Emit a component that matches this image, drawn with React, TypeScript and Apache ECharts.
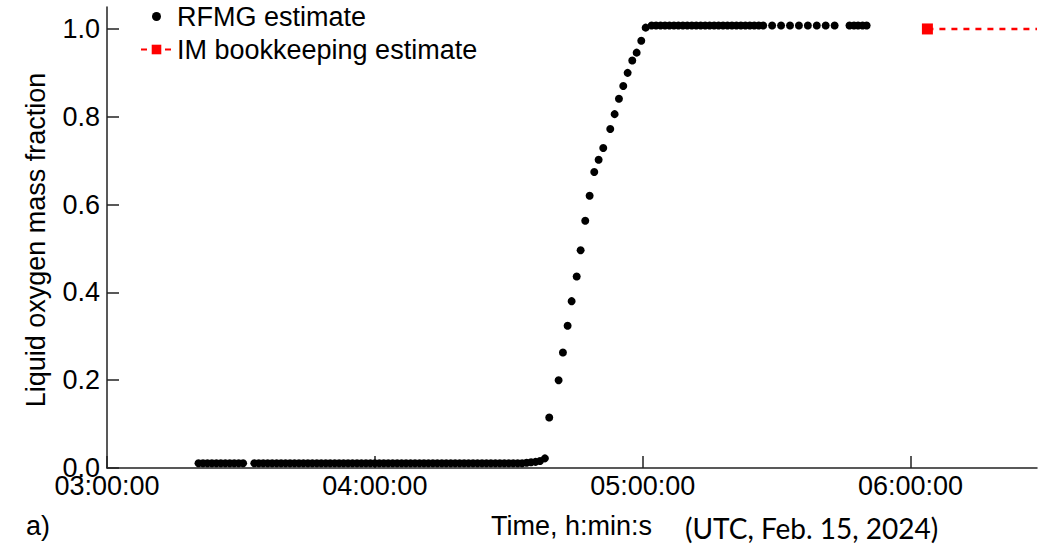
import React, { useEffect, useRef } from "react";
import * as echarts from "echarts";

// ---- Axis definitions ----
const xAxisStart = "03:00:00";
const xAxisEnd = "06:28:20";
const xTickLabels = ["03:00:00", "04:00:00", "05:00:00", "06:00:00"];
const yTickValues = [0, 0.2, 0.4, 0.6, 0.8, 1.0];
const yMax = 1.05;

// ---- RFMG estimate ----
const lowRun1Times = [
  "03:20:30", "03:21:30", "03:22:30", "03:23:30", "03:24:30", "03:25:30",
  "03:26:30", "03:27:30", "03:28:30", "03:29:30", "03:30:30",
];
const lowRun1Values = [0.011, 0.011, 0.011, 0.011, 0.011, 0.011, 0.011, 0.011, 0.011, 0.011, 0.011];

const lowRun2Times = [
  "03:33:00", "03:34:00", "03:35:00", "03:36:00", "03:37:00", "03:38:00", "03:39:00",
  "03:40:00", "03:41:00", "03:42:00", "03:43:00", "03:44:00", "03:45:00", "03:46:00",
  "03:47:00", "03:48:00", "03:49:00", "03:50:00", "03:51:00", "03:52:00", "03:53:00",
  "03:54:00", "03:55:00", "03:56:00", "03:57:00", "03:58:00", "03:59:00",
  "04:00:00", "04:01:00", "04:02:00", "04:03:00", "04:04:00", "04:05:00", "04:06:00",
  "04:07:00", "04:08:00", "04:09:00", "04:10:00", "04:11:00", "04:12:00", "04:13:00",
  "04:14:00", "04:15:00", "04:16:00", "04:17:00", "04:18:00", "04:19:00", "04:20:00",
  "04:21:00", "04:22:00", "04:23:00", "04:24:00", "04:25:00", "04:26:00", "04:27:00",
  "04:28:00", "04:29:00", "04:30:00", "04:31:00", "04:32:00", "04:33:00", "04:34:00",
  "04:35:00", "04:36:00", "04:37:00",
];
const lowRun2Values = [
  0.011, 0.011, 0.011, 0.011, 0.011, 0.011, 0.011,
  0.011, 0.011, 0.011, 0.011, 0.011, 0.011, 0.011,
  0.011, 0.011, 0.011, 0.011, 0.011, 0.011, 0.011,
  0.011, 0.011, 0.011, 0.011, 0.011, 0.011,
  0.011, 0.011, 0.011, 0.011, 0.011, 0.011, 0.011,
  0.011, 0.011, 0.011, 0.011, 0.011, 0.011, 0.011,
  0.011, 0.011, 0.011, 0.011, 0.011, 0.011, 0.011,
  0.011, 0.011, 0.011, 0.011, 0.011, 0.011, 0.011,
  0.011, 0.011, 0.011, 0.011, 0.011, 0.011, 0.012,
  0.013, 0.014, 0.016,
];

const riseTimes = [
  "04:38:06", "04:39:04", "04:41:10", "04:42:08", "04:43:11", "04:44:05",
  "04:45:13", "04:46:06", "04:47:08", "04:48:07", "04:49:09", "04:50:08",
  "04:51:10", "04:52:44", "04:53:43", "04:54:41", "04:55:39", "04:56:38",
  "04:57:40", "04:58:39", "04:59:41", "05:00:40",
];
const riseValues = [
  0.022, 0.115, 0.2, 0.263, 0.324, 0.38,
  0.436, 0.496, 0.563, 0.62, 0.674, 0.702,
  0.729, 0.772, 0.806, 0.841, 0.87, 0.9,
  0.928, 0.946, 0.973, 1.003,
];

const plateauTimes = [
  "05:02:00", "05:03:00", "05:04:00", "05:05:00", "05:06:00", "05:07:00", "05:08:00",
  "05:09:00", "05:10:00", "05:11:00", "05:12:00", "05:13:00", "05:14:00", "05:15:00",
  "05:16:00", "05:17:00", "05:18:00", "05:19:00", "05:20:00", "05:21:00", "05:22:00",
  "05:23:00", "05:24:00", "05:25:00", "05:26:00", "05:27:00",
  "05:29:00", "05:31:00", "05:33:00", "05:35:00", "05:37:00", "05:39:00", "05:41:00", "05:43:00",
  "05:46:20", "05:47:20", "05:48:15", "05:49:15", "05:50:10",
];
const plateauValues = [
  1.008, 1.008, 1.008, 1.008, 1.008, 1.008, 1.008,
  1.008, 1.008, 1.008, 1.008, 1.008, 1.008, 1.008,
  1.008, 1.008, 1.008, 1.008, 1.008, 1.008, 1.008,
  1.008, 1.008, 1.008, 1.008, 1.008,
  1.008, 1.008, 1.008, 1.008, 1.008, 1.008, 1.008, 1.008,
  1.008, 1.008, 1.008, 1.008, 1.008,
];

// ---- IM bookkeeping estimate ----
const imTimes = ["06:03:47", "06:28:20"];
const imValues = [1.0, 1.0];

// ---- helpers ----
const toHours = (s: string) => {
  const [h, m, sec] = s.split(":").map(Number);
  return h + m / 60 + sec / 3600;
};
const pad = (n: number) => String(n).padStart(2, "0");
const fmtHours = (v: number) => {
  const total = Math.round(v * 3600);
  const h = Math.floor(total / 3600);
  const m = Math.floor((total % 3600) / 60);
  const s = total % 60;
  return `${pad(h)}:${pad(m)}:${pad(s)}`;
};
const pairs = (times: string[], values: number[]) => times.map((t, i) => [toHours(t), values[i]]);

const FONT = '"Liberation Sans", Arial, sans-serif';
const AXIS_COLOR = "#222";
const TEXT_COLOR = "#000";
// small dot inside a larger (invisible) 12x12 frame, so the legend dot is smaller than the item box
const LEGEND_DOT = "path://M0 0M12 12M1.5 6A4.5 4.5 0 1 0 10.5 6A4.5 4.5 0 1 0 1.5 6Z";

export default function App() {
  const ref = useRef<HTMLDivElement>(null);

  useEffect(() => {
    if (!ref.current) return;
    const chart = echarts.init(ref.current, undefined, { renderer: "svg" });

    const rfmgData = [
      ...pairs(lowRun1Times, lowRun1Values),
      ...pairs(lowRun2Times, lowRun2Values),
      ...pairs(riseTimes, riseValues),
      ...pairs(plateauTimes, plateauValues),
    ];
    const imData = imTimes.map((t, i) =>
      i === 0 ? { value: [toHours(t), imValues[i]] } : { value: [toHours(t), imValues[i]], symbol: "none" }
    );
    const xTickValues = xTickLabels.map(toHours);

    chart.setOption({
      animation: false,
      backgroundColor: "#fff",
      grid: { left: 107, right: 8, top: 7, bottom: 78 },
      legend: {
        orient: "vertical",
        left: 135,
        top: -2,
        itemWidth: 31,
        itemHeight: 12,
        itemGap: 6,
        textStyle: { fontSize: 27, fontFamily: FONT, color: TEXT_COLOR },
        data: [
          { name: "RFMG estimate", icon: LEGEND_DOT, itemStyle: { color: "#000", opacity: 1 } },
          { name: "IM bookkeeping estimate" },
        ],
      },
      xAxis: {
        type: "value",
        min: toHours(xAxisStart),
        max: toHours(xAxisEnd),
        interval: 1,
        axisLine: { show: true, lineStyle: { color: AXIS_COLOR, width: 1.5 } },
        axisTick: {
          show: true,
          inside: true,
          length: 12,
          customValues: xTickValues,
          lineStyle: { color: AXIS_COLOR, width: 1.5 },
        },
        axisLabel: {
          customValues: xTickValues,
          formatter: (v: number) => fmtHours(v),
          fontSize: 27,
          fontFamily: FONT,
          color: TEXT_COLOR,
          margin: 4,
        },
        splitLine: { show: false },
      },
      yAxis: {
        type: "value",
        min: 0,
        max: yMax,
        interval: 0.2,
        axisLine: { show: true, lineStyle: { color: AXIS_COLOR, width: 1.5 } },
        axisTick: {
          show: true,
          inside: true,
          length: 12,
          customValues: yTickValues,
          lineStyle: { color: AXIS_COLOR, width: 1.5 },
        },
        axisLabel: {
          customValues: yTickValues,
          formatter: (v: number) => v.toFixed(1),
          fontSize: 27,
          fontFamily: FONT,
          color: TEXT_COLOR,
          margin: 7,
        },
        splitLine: { show: false },
      },
      series: [
        {
          name: "RFMG estimate",
          type: "scatter",
          data: rfmgData,
          symbol: "circle",
          symbolSize: 8,
          itemStyle: { color: "#000", opacity: 1 },
        },
        {
          name: "IM bookkeeping estimate",
          type: "line",
          data: imData,
          symbol: "rect",
          symbolSize: 11,
          showSymbol: true,
          lineStyle: { color: "#ff0000", width: 2.5, type: [6, 6] },
          itemStyle: { color: "#ff0000", opacity: 1 },
        },
      ],
      graphic: [
        {
          type: "text",
          x: 36,
          y: 240,
          rotation: Math.PI / 2,
          style: {
            text: "Liquid oxygen mass fraction",
            fontSize: 27,
            fontFamily: FONT,
            fill: TEXT_COLOR,
            align: "center",
            verticalAlign: "middle",
          },
        },
        {
          type: "text",
          x: 491,
          y: 526,
          style: {
            text: "Time, h:min:s",
            fontSize: 27,
            fontFamily: FONT,
            fill: TEXT_COLOR,
            align: "left",
            verticalAlign: "middle",
          },
        },
        {
          type: "text",
          x: 685,
          y: 528,
          style: {
            text: "(UTC, Feb. 15, 2024)",
            fontSize: 28,
            fontFamily: "Lato, sans-serif",
            fill: TEXT_COLOR,
            align: "left",
            verticalAlign: "middle",
          },
        },
        {
          type: "text",
          x: 26,
          y: 526,
          style: {
            text: "a)",
            fontSize: 27,
            fontFamily: FONT,
            fill: TEXT_COLOR,
            align: "left",
            verticalAlign: "middle",
          },
        },
      ],
    });

    return () => chart.dispose();
  }, []);

  return (
    <div
      ref={ref}
      style={{ position: "fixed", left: 0, top: 0, width: 1045, height: 546, background: "#fff" }}
    />
  );
}
